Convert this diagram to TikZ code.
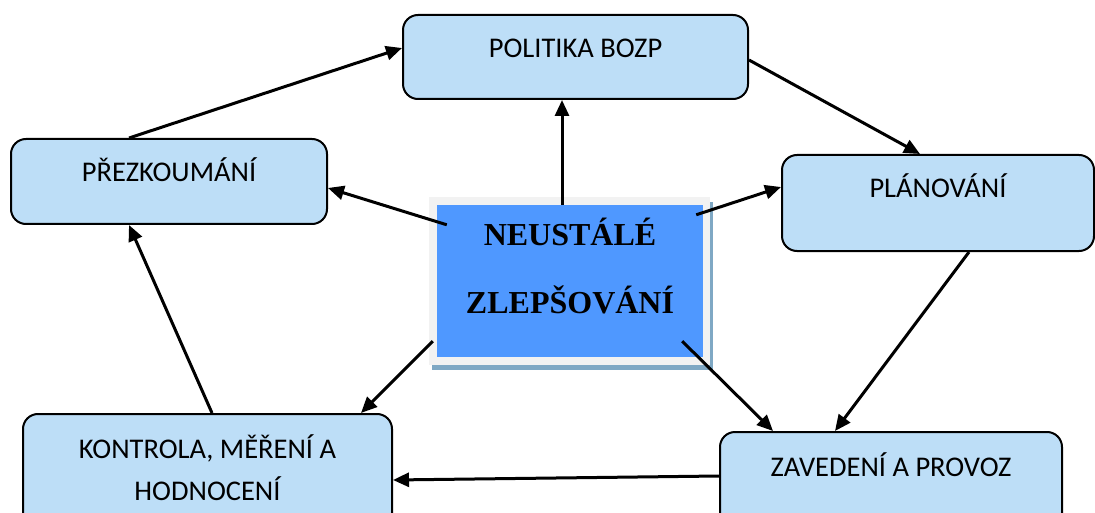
\documentclass[tikz,border=0pt]{standalone}
\usepackage{fontspec}
\setmainfont{Carlito}
\newfontfamily\serifbold{Liberation Serif}
\usetikzlibrary{arrows.meta,calc}
\definecolor{boxfill}{RGB}{189,222,247}
\definecolor{centerblue}{RGB}{79,152,255}
\definecolor{shadowgray}{RGB}{242,242,242}
\definecolor{shadowblue}{RGB}{127,168,196}
\tikzset{
  stagebox/.style={draw=black, line width=2pt, fill=boxfill, rounded corners=15pt, inner sep=0pt},
  stagetext/.style={font=\fontsize{28.5}{42}\selectfont, align=center, inner sep=0pt, text height=20pt, text depth=0pt},
  centertext/.style={font=\serifbold\bfseries\fontsize{32}{36}\selectfont, inner sep=0pt},
  flow/.style={draw=black, line width=3pt, -{Triangle[length=16pt,width=14pt]}},
}
\begin{document}
\begin{tikzpicture}[x=1pt,y=-1pt]
\useasboundingbox (0,0) rectangle (1095,513);
\clip (0,0) rectangle (1095,513);
% boxes
\node[stagebox, minimum width=345pt, minimum height=84pt] (pol) at (575.5,57) {};
\node[stagebox, minimum width=316pt, minimum height=85pt] (rev) at (169,181.5) {};
\node[stagebox, minimum width=312pt, minimum height=96pt] (plan) at (938,203) {};
\node[stagebox, minimum width=369pt, minimum height=116pt] (kon) at (207.5,472) {};
\node[stagebox, minimum width=342pt, minimum height=98pt] (zav) at (891,481) {};
% center
\node[fill=shadowblue, minimum width=281pt, minimum height=168pt, inner sep=0pt] (csh) at (572.5,286) {};
\node[fill=shadowgray, minimum width=281pt, minimum height=168pt, inner sep=0pt] (cgr) at (569.5,281) {};
\node[fill=centerblue, minimum width=266pt, minimum height=152pt, inner sep=0pt] (c) at (570,281) {};
\node[centertext, anchor=base] (c1) at (570,246) {NEUSTÁLÉ};
\node[centertext, anchor=base] (c2) at (570,313) {ZLEPŠOVÁNÍ};
% texts
\node[stagetext, anchor=base] (polt) at (575.5,58) {POLITIKA BOZP};
\node[stagetext, anchor=base] (revt) at (169,182) {PŘEZKOUMÁNÍ};
\node[stagetext, anchor=base] (plant) at (938,198) {PLÁNOVÁNÍ};
\node[stagetext, anchor=base] (kont1) at (207.5,458) {KONTROLA, MĚŘENÍ A};
\node[stagetext, anchor=base] (kont2) at (207.5,500) {HODNOCENÍ};
\node[stagetext, anchor=base] (zavt) at (891,476) {ZAVEDENÍ A PROVOZ};
% connectors
\draw[flow] ([xshift=119pt]rev.north west) -- ([yshift=9pt]pol.west);
\draw[flow] ([xshift=-8pt]c.north) -- ([xshift=-13.5pt]pol.south);
\draw[flow] ([yshift=-3pt]pol.east) -- ([xshift=-18pt]plan.north);
\draw[flow] ([xshift=-7pt,yshift=-10pt]c.north east) -- ([yshift=16pt]plan.west);
\draw[flow] ([xshift=10pt,yshift=-20pt]c.north west) -- ([yshift=-6.5pt]rev.east);
\draw[flow] ([xshift=188pt]plan.south west) -- ([xshift=-56pt]zav.north);
\draw[flow] ([xshift=-21pt,yshift=16pt]c.south east) -- ([xshift=-118pt]zav.north);
\draw[flow] ([yshift=5pt]zav.west) -- ([yshift=-8pt]kon.east);
\draw[flow] ([xshift=-4pt,yshift=16pt]c.south west) -- ([xshift=-32pt]kon.north east);
\draw[flow] ([xshift=190pt]kon.north west) -- ([xshift=119pt]rev.south west);
\end{tikzpicture}
\end{document}
